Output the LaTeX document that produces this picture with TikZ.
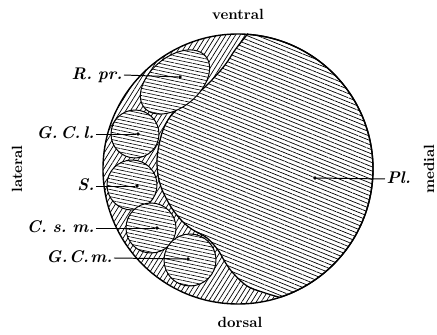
\documentclass[tikz,border=0pt]{standalone}
\usetikzlibrary{patterns.meta}
\tikzset{
  band/.style={pattern={Lines[angle=58,distance=2.9pt,line width=.5pt]}},
  plexus/.style={preaction={fill=white},
    pattern={Lines[angle=-22,distance=2.8pt,line width=.5pt]},
    draw, line width=.9pt},
  nucleus/.style={preaction={fill=white},
    pattern={Lines[angle=-12,distance=2.5pt,line width=.45pt]},
    draw, line width=.7pt},
  dot/.style={circle, fill, inner sep=0pt, minimum size=2.6pt},
  lbl/.style={font=\fontsize{12}{14}\selectfont\bfseries\itshape,
    text height=8pt, text depth=2pt, inner sep=1pt},
  side/.style={font=\fontsize{10.5}{12}\selectfont\bfseries}
}
\begin{document}
\begin{tikzpicture}[x=0.025cm, y=0.025cm]
    \useasboundingbox (0,0) rectangle (437,335);
    % whole section, outer band hatched
    \fill[band] (238,166) circle [radius=135];
    % plexus, bordered by the arc and the inner curve
    \path[plexus] (238,166) ++(86:135) arc [start angle=86, end angle=-72,
      radius=135] -- plot [smooth, tension=0.6] coordinates {(279.7,37.6)
      (262,43) (247,49) (233,62) (225,73) (218,85) (207,97) (193,105)
      (183,113) (173,125) (166,137) (161,148) (158,160) (157,175) (159,190)
      (163,205) (170,218) (181,229) (198,242) (210,253) (225,270) (235,285)
      (247.4,300.7)} -- cycle;
    % nuclei
    \path[nucleus] plot [domain=0:360, samples=73]
      ({175+40*cos(\x)*cos(40)-25*sin(\x)*sin(40)},
       {253+40*cos(\x)*sin(40)+25*sin(\x)*cos(40)}) -- cycle;
    \path[nucleus] (135,201) circle [radius=24];
    \path[nucleus] (132,150) circle [radius=25];
    \path[nucleus] (151,107) circle [radius=25];
    \path[nucleus] (190,75) circle [radius=26];
    \draw[line width=1pt] (238,166) circle [radius=135];
    % dots and labels
    \node (rpr) at (180,258) [dot] {}; \node (rprl) at (124,260)
    [lbl, anchor=east] {R.\,\,pr.};
    \node (gcl) at (138,201) [dot] {}; \node (gcll) at (96,201)
    [lbl, anchor=east] {G.\,C.\,l.};
    \node (s) at (137,149) [dot] {}; \node (sl) at (96,149)
    [lbl, anchor=east] {S.};
    \node (csm) at (157,107) [dot] {}; \node (csml) at (96,107)
    [lbl, anchor=east] {C.\,\,s.\,\,m.};
    \node (gcm) at (188,76) [dot] {}; \node (gcml) at (114,77)
    [lbl, anchor=east] {G.\kern1pt C.\kern1pt m.};
    \node (pl) at (315,157) [dot] {}; \node (pll) at (385,156)
    [lbl, anchor=west] {Pl.};
    \draw[line width=.7pt] (rprl.east) -- (rpr);
    \draw[line width=.7pt] (gcll.east) -- (gcl);
    \draw[line width=.7pt] (sl.east) -- (s);
    \draw[line width=.7pt] (csml.east) -- (csm);
    \draw[line width=.7pt] (gcml.east) -- (gcm);
    \draw[line width=.7pt] (pll.west) -- (pl);
    % orientation
    \node (v) at (238,321) [side] {ventral};
    \node (d) at (240,13) [side] {dorsal};
    \node (lat) at (17,166) [side, rotate=90] {lateral};
    \node (med) at (429,166) [side, rotate=90] {medial};
\end{tikzpicture}
\end{document}
